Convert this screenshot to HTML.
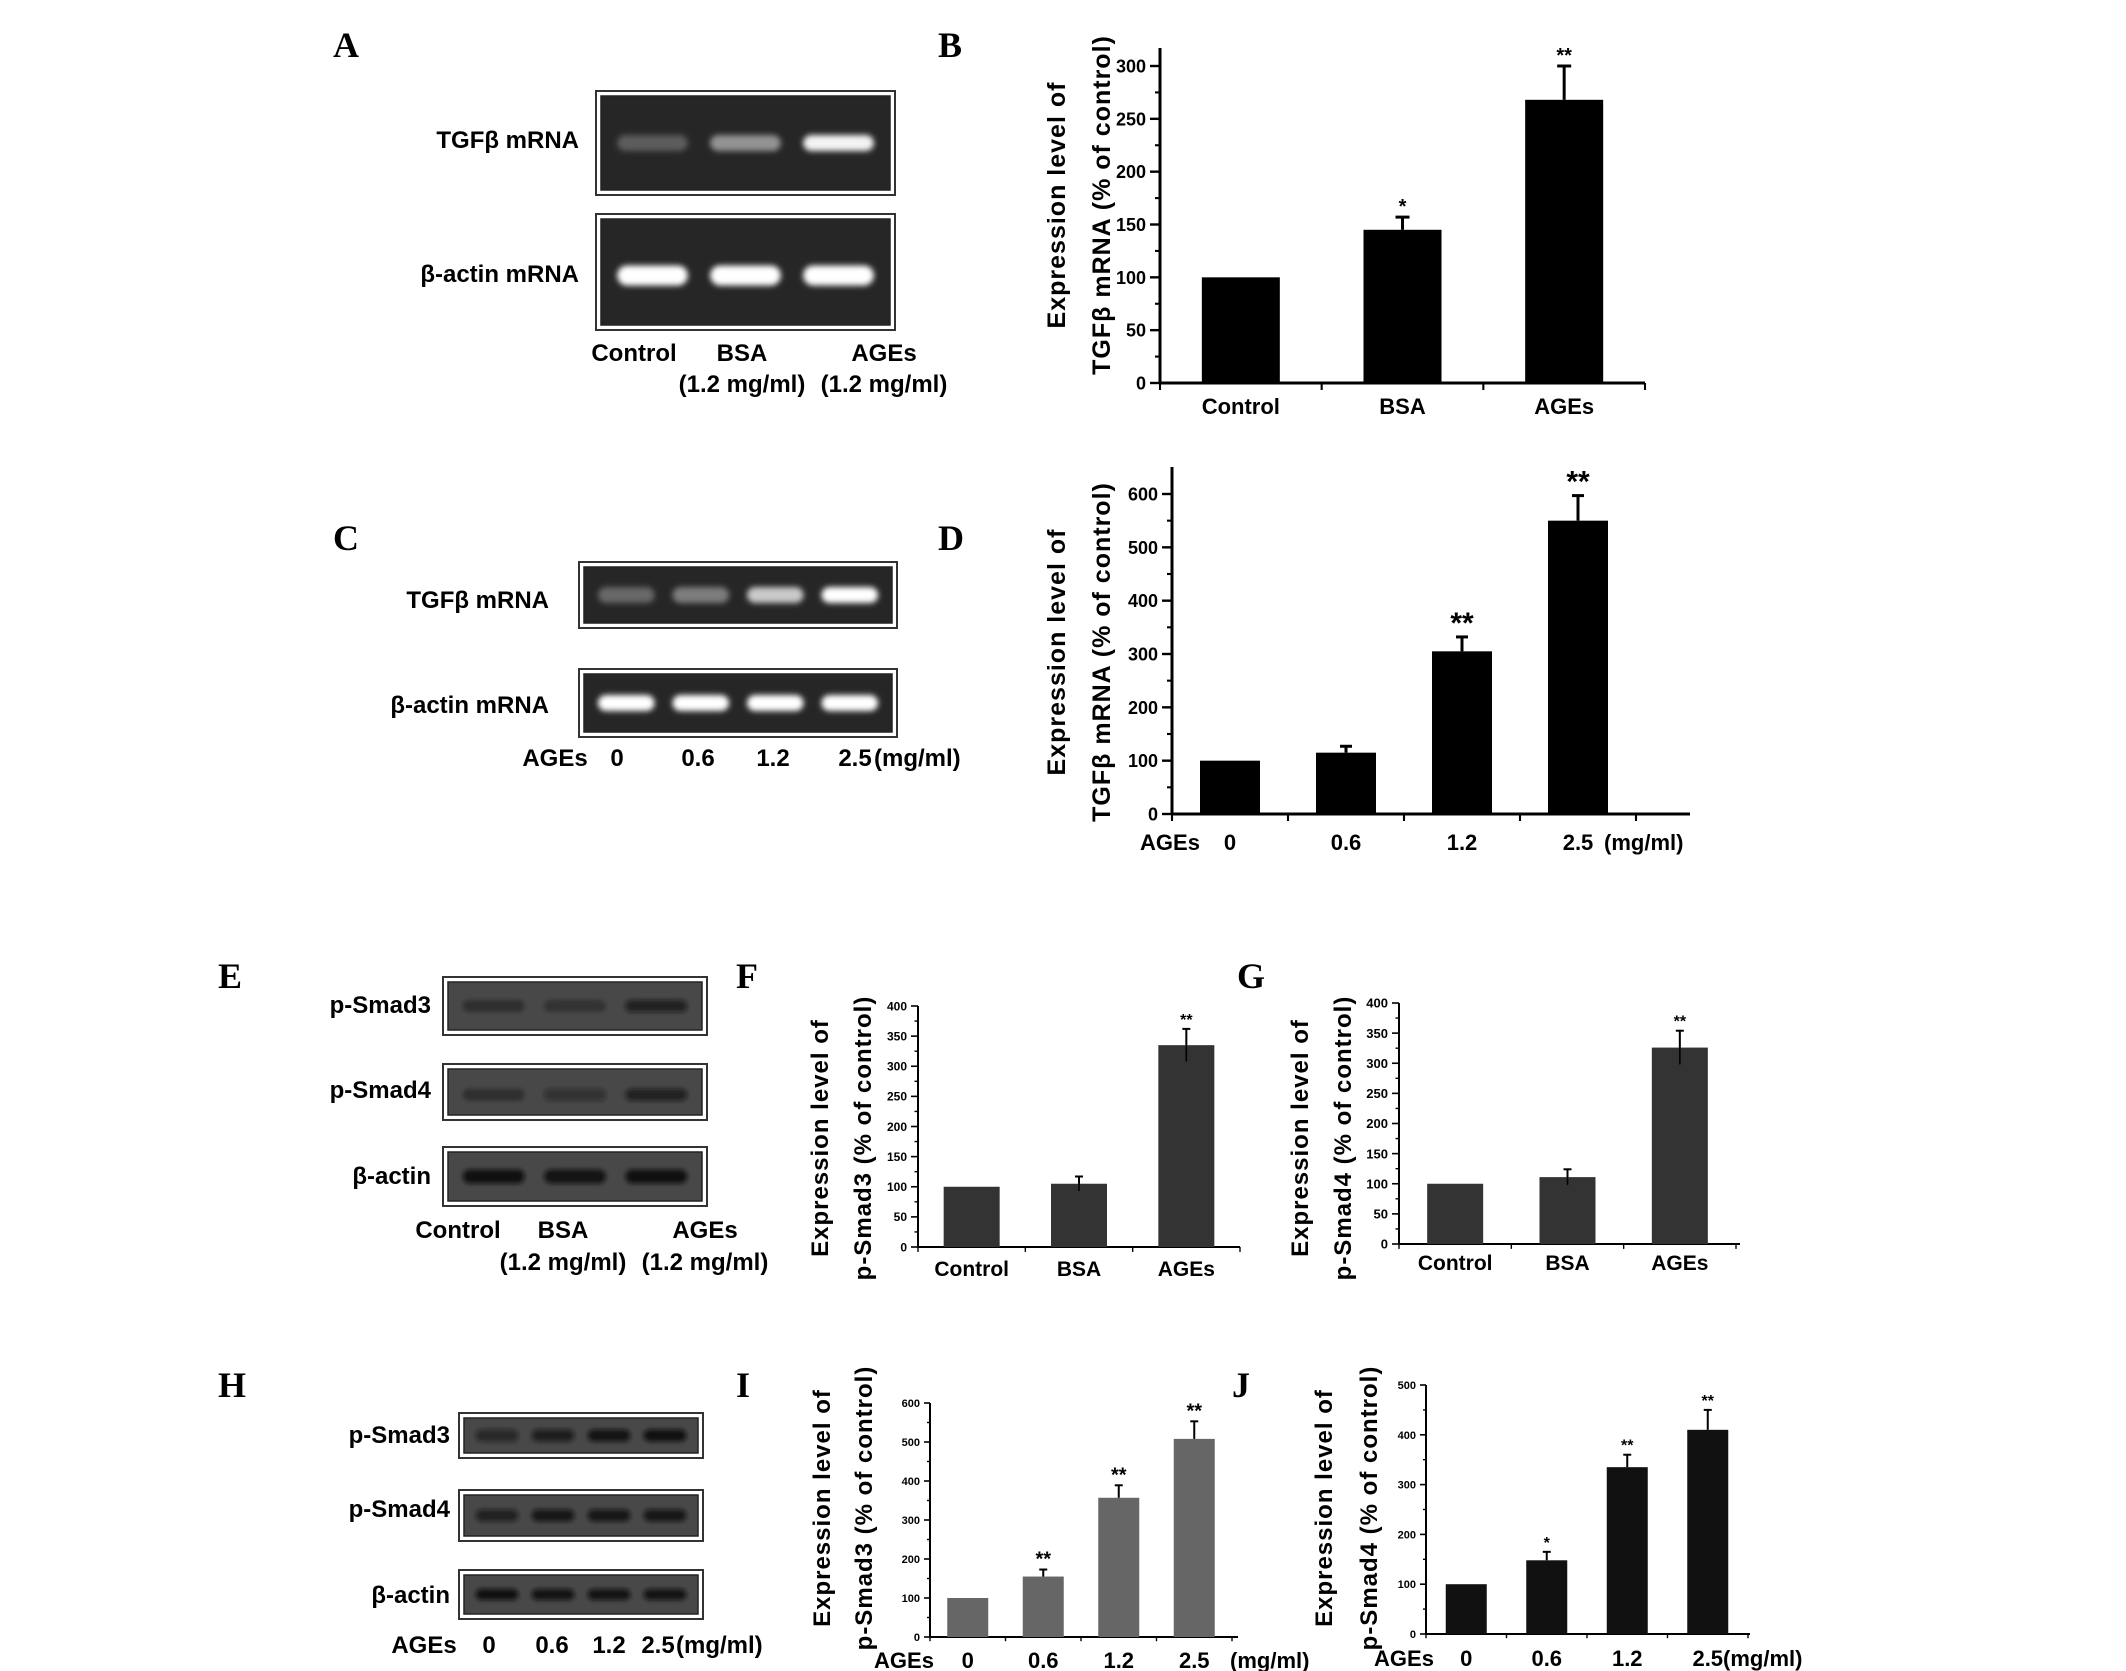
<!DOCTYPE html>
<html><head><meta charset="utf-8"><style>
html,body{margin:0;padding:0;background:#fff}
svg{display:block}
text{font-family:"Liberation Sans",Arial,sans-serif;font-weight:bold;fill:#000}
.pl{font-family:"Liberation Serif",serif;font-size:36px}
</style></head><body>
<svg id="fig" width="2126" height="1671" viewBox="0 0 2126 1671" xmlns="http://www.w3.org/2000/svg">
<defs>
<filter id="blur" x="-20%" y="-100%" width="140%" height="300%"><feGaussianBlur stdDeviation="3"/></filter>
<filter id="blur2" x="-20%" y="-100%" width="140%" height="300%"><feGaussianBlur stdDeviation="2"/></filter>
</defs>
<g id="root"></g>
</svg>
<script>
// ---- Chart data ----
const catsB = ["Control","BSA","AGEs"];
const valsB = [100,145,268];
const errB = [0,12,32];
const sigB = ["","*","**"];
const ticksB = [0,50,100,150,200,250,300];

const catsD = ["0","0.6","1.2","2.5"];
const valsD = [100,115,305,550];
const errD = [0,12,27,47];
const sigD = ["","","**","**"];
const ticksD = [0,100,200,300,400,500,600];

const catsF = ["Control","BSA","AGEs"];
const valsF = [100,105,335];
const errF = [0,12,27];
const sigF = ["","","**"];
const ticksF = [0,50,100,150,200,250,300,350,400];

const catsG = ["Control","BSA","AGEs"];
const valsG = [100,111,326];
const errG = [0,13,28];
const sigG = ["","","**"];
const ticksG = [0,50,100,150,200,250,300,350,400];

const catsI = ["0","0.6","1.2","2.5"];
const valsI = [100,155,357,508];
const errI = [0,18,32,45];
const sigI = ["","**","**","**"];
const ticksI = [0,100,200,300,400,500,600];

const catsJ = ["0","0.6","1.2","2.5"];
const valsJ = [100,148,335,410];
const errJ = [0,17,25,40];
const sigJ = ["","*","**","**"];
const ticksJ = [0,100,200,300,400,500];

const NS="http://www.w3.org/2000/svg";
const root=document.getElementById('root');
function el(tag,attrs,parent,txt){const e=document.createElementNS(NS,tag);for(const k in attrs)e.setAttribute(k,attrs[k]);if(txt!==undefined)e.textContent=txt;(parent||root).appendChild(e);return e;}

function chart(o){
  const g=el('g',{});
  
  
  const y=v=>o.y0-(v/o.max)*(o.y0-o.yTop);
  const bandEnd=o.bandEnd||o.xEnd;
  const step=(bandEnd-o.x0)/o.n;
  const x=i=>o.x0+(i+0.5)*step;
  const ya=el('line',{x1:o.x0,y1:o.y0,x2:o.x0,y2:o.yTop-o.over,stroke:'#000','stroke-width':o.sw},g);
  
  const xa=el('line',{x1:o.x0,y1:o.y0,x2:o.xEnd,y2:o.y0,stroke:'#000','stroke-width':o.sw},g);
  
  o.ticks.forEach((t,i)=>{
    el('line',{x1:o.x0-o.tl,y1:y(t),x2:o.x0,y2:y(t),stroke:'#000','stroke-width':o.sw*0.8},g);
    if(i<o.ticks.length-1){const m=(t+o.ticks[i+1])/2;el('line',{x1:o.x0-o.tl/2,y1:y(m),x2:o.x0,y2:y(m),stroke:'#000','stroke-width':o.sw*0.7},g);}
    const tt=el('text',{x:o.x0-o.tl-4,y:y(t)+o.tf*0.36,'font-size':o.tf,'text-anchor':'end'},g,String(t));
    
  });
  for(let i=0;i<=o.n;i++){const xx=o.x0+i*step;if(xx<=o.xEnd+1)el('line',{x1:xx,y1:o.y0,x2:xx,y2:o.y0+o.tl*0.7,stroke:'#000','stroke-width':o.sw*0.7},g);}
  o.vals.forEach((v,i)=>{
    const b=el('rect',{x:x(i)-o.bw/2,y:y(v),width:o.bw,height:o.y0-y(v),fill:o.color},g);
    
    if(o.err[i]>0){
      const top=y(v+o.err[i]);
      el('line',{x1:x(i),y1:y(v),x2:x(i),y2:top,stroke:'#000','stroke-width':o.sw},g);
      el('line',{x1:x(i)-o.cap,y1:top,x2:x(i)+o.cap,y2:top,stroke:'#000','stroke-width':o.sw},g);
      if(o.lowErr) el('line',{x1:x(i),y1:y(v),x2:x(i),y2:y(v-o.err[i]),stroke:'#000','stroke-width':o.sw*0.8},g);
    }
    if(o.sig[i]){const s=el('text',{x:x(i),y:y(v+o.err[i])-4,'font-size':o.sf,'text-anchor':'middle'},g,o.sig[i]);
      }
    const c=el('text',{x:x(i)+(o.catOff||0),y:o.labY,'font-size':o.cf,'text-anchor':'middle'},g,o.cats[i]);
    
  });
  if(o.prefix){const p=el('text',{x:o.prefix[0],y:o.labY,'font-size':o.cf,'text-anchor':'middle'},g,'AGEs');
    const u=el('text',{x:o.prefix[1],y:o.labY,'font-size':o.cf,'text-anchor':'start'},g,'(mg/ml)');}
  o.title.forEach((t,k)=>{
    const tt=el('text',{x:o.tx[k],y:o.tcy,'font-size':o.ttf,'text-anchor':'middle',transform:`rotate(-90 ${o.tx[k]} ${o.tcy})`,'letter-spacing':'1'},g,t);
    
  });
}

function text(x,y,s,size,anchor,name,cls){const t=el('text',{x:x,y:y,'font-size':size,'text-anchor':anchor||'start'});if(cls)t.setAttribute('class',cls);t.textContent=s;
  return t;}

function gel(x,y,w,h,lanes,ints,bright,name,bandY,bandH){
  const g=el('g',{});
  
  
  el('rect',{x:x,y:y,width:w,height:h,fill:'#fff',stroke:'#333','stroke-width':2},g);
  el('rect',{x:x+5,y:y+5,width:w-10,height:h-10,fill:bright?'#262626':'#484848',stroke:'#222','stroke-width':1.5},g);
  const lw=(w-20)/lanes;
  ints.forEach((a,i)=>{
    const cx=x+10+(i+0.5)*lw;
    const col=bright?`rgba(255,255,255,${a})`:`rgba(15,15,15,${a})`;
    el('rect',{x:cx-lw*0.38,y:y+h*bandY-bandH/2,width:lw*0.76,height:bandH,rx:bandH/2,fill:col,filter:bright?'url(#blur)':'url(#blur2)'},g);
  });
}

// Panel letters
[['A',333,57],['B',938,57],['C',333,550],['D',938,550],['E',218,988],['F',736,988],['G',1237,988],['H',218,1397],['I',736,1397],['J',1232,1397]].forEach(p=>text(p[1],p[2],p[0],36,'start','panel-label-'+p[0],'pl'));

// Panel A
gel(596,91,299,104,3,[0.25,0.5,0.95],true,'gel-a-tgfb',0.5,16);
gel(596,214,299,116,3,[1,1,1],true,'gel-a-actin',0.53,20);
text(579,148,'TGFβ mRNA',24,'end','row-label');
text(579,282,'β-actin mRNA',24,'end','row-label');
text(634,361,'Control',24,'middle','lane-label');
text(742,361,'BSA',24,'middle','lane-label');
text(884,361,'AGEs',24,'middle','lane-label');
text(742,392,'(1.2 mg/ml)',24,'middle','lane-label');
text(884,392,'(1.2 mg/ml)',24,'middle','lane-label');

// Panel C
gel(579,562,318,66,4,[0.3,0.4,0.75,1],true,'gel-c-tgfb',0.5,16);
gel(579,669,318,68,4,[1,1,1,1],true,'gel-c-actin',0.5,16);
text(549,608,'TGFβ mRNA',24,'end','row-label');
text(549,713,'β-actin mRNA',24,'end','row-label');
text(555,766,'AGEs',24,'middle','lane-label');
text(617,766,'0',24,'middle','lane-label');
text(698,766,'0.6',24,'middle','lane-label');
text(773,766,'1.2',24,'middle','lane-label');
text(855,766,'2.5',24,'middle','lane-label');
text(874,766,'(mg/ml)',24,'start','lane-label');

// Panel E
gel(443,977,264,58,3,[0.35,0.3,0.7],false,'gel-e-psmad3',0.5,12);
gel(443,1064,264,56,3,[0.35,0.45,0.7],false,'gel-e-psmad4',0.55,12);
gel(443,1147,264,59,3,[0.95,0.9,0.95],false,'gel-e-actin',0.5,14);
text(431,1013,'p-Smad3',24,'end','row-label');
text(431,1098,'p-Smad4',24,'end','row-label');
text(431,1184,'β-actin',24,'end','row-label');
text(458,1238,'Control',24,'middle','lane-label');
text(563,1238,'BSA',24,'middle','lane-label');
text(705,1238,'AGEs',24,'middle','lane-label');
text(563,1270,'(1.2 mg/ml)',24,'middle','lane-label');
text(705,1270,'(1.2 mg/ml)',24,'middle','lane-label');

// Panel H
gel(459,1413,244,45,4,[0.6,0.75,0.9,0.95],false,'gel-h-psmad3',0.5,12);
gel(459,1490,244,51,4,[0.7,0.85,0.85,0.85],false,'gel-h-psmad4',0.5,12);
gel(459,1570,244,49,4,[0.95,0.9,0.9,0.9],false,'gel-h-actin',0.5,11);
text(450,1443,'p-Smad3',24,'end','row-label');
text(450,1517,'p-Smad4',24,'end','row-label');
text(450,1603,'β-actin',24,'end','row-label');
text(424,1653,'AGEs',24,'middle','lane-label');
text(489,1653,'0',24,'middle','lane-label');
text(552,1653,'0.6',24,'middle','lane-label');
text(609,1653,'1.2',24,'middle','lane-label');
text(658,1653,'2.5',24,'middle','lane-label');
text(676,1653,'(mg/ml)',24,'start','lane-label');

chart({name:'chart-b',cats:catsB,vals:valsB,err:errB,sig:sigB,ticks:ticksB,n:3,x0:1160,xEnd:1645,bandEnd:1645,y0:383,yTop:66,max:300,over:18,bw:78,cap:7,color:'#000',sw:3,tl:10,tf:18,cf:22,sf:20,labY:414,title:['Expression level of','TGFβ mRNA (% of control)'],tx:[1065,1110],tcy:205,ttf:25});
chart({name:'chart-d',cats:catsD,vals:valsD,err:errD,sig:sigD,ticks:ticksD,n:4,x0:1172,xEnd:1690,bandEnd:1636,y0:814,yTop:494,max:600,over:27,bw:60,cap:6,color:'#000',sw:3,tl:10,tf:18,cf:22,sf:30,labY:850,prefix:[1170,1604],title:['Expression level of','TGFβ mRNA (% of control)'],tx:[1065,1110],tcy:652,ttf:25});
chart({name:'chart-f',cats:catsF,vals:valsF,err:errF,sig:sigF,ticks:ticksF,n:3,x0:918,xEnd:1240,bandEnd:1240,y0:1247,yTop:1006,max:400,over:0,bw:56,cap:4,color:'#333',sw:2,tl:7,tf:12,cf:21,sf:16,labY:1276,lowErr:true,title:['Expression level of','p-Smad3 (% of control)'],tx:[828,871],tcy:1138,ttf:24});
chart({name:'chart-g',cats:catsG,vals:valsG,err:errG,sig:sigG,ticks:ticksG,n:3,x0:1399,xEnd:1740,bandEnd:1736,y0:1244,yTop:1003,max:400,over:0,bw:56,cap:4,color:'#333',sw:2,tl:7,tf:13,cf:21,sf:16,labY:1270,lowErr:true,title:['Expression level of','p-Smad4 (% of control)'],tx:[1308,1351],tcy:1138,ttf:24});
chart({name:'chart-i',cats:catsI,vals:valsI,err:errI,sig:sigI,ticks:ticksI,n:4,x0:930,xEnd:1238,bandEnd:1232,y0:1637,yTop:1403,max:600,over:0,bw:41,cap:4,color:'#666',sw:2,tl:6,tf:11,cf:22,sf:20,labY:1668,prefix:[904,1230],title:['Expression level of','p-Smad3 (% of control)'],tx:[830,872],tcy:1508,ttf:24});
chart({name:'chart-j',cats:catsJ,vals:valsJ,err:errJ,sig:sigJ,ticks:ticksJ,n:4,x0:1426,xEnd:1750,bandEnd:1748,y0:1634,yTop:1385,max:500,over:0,bw:41,cap:4,color:'#111',sw:2,tl:6,tf:11,cf:22,sf:16,labY:1666,prefix:[1404,1723],title:['Expression level of','p-Smad4 (% of control)'],tx:[1332,1377],tcy:1508,ttf:24});
</script>
</body></html>
